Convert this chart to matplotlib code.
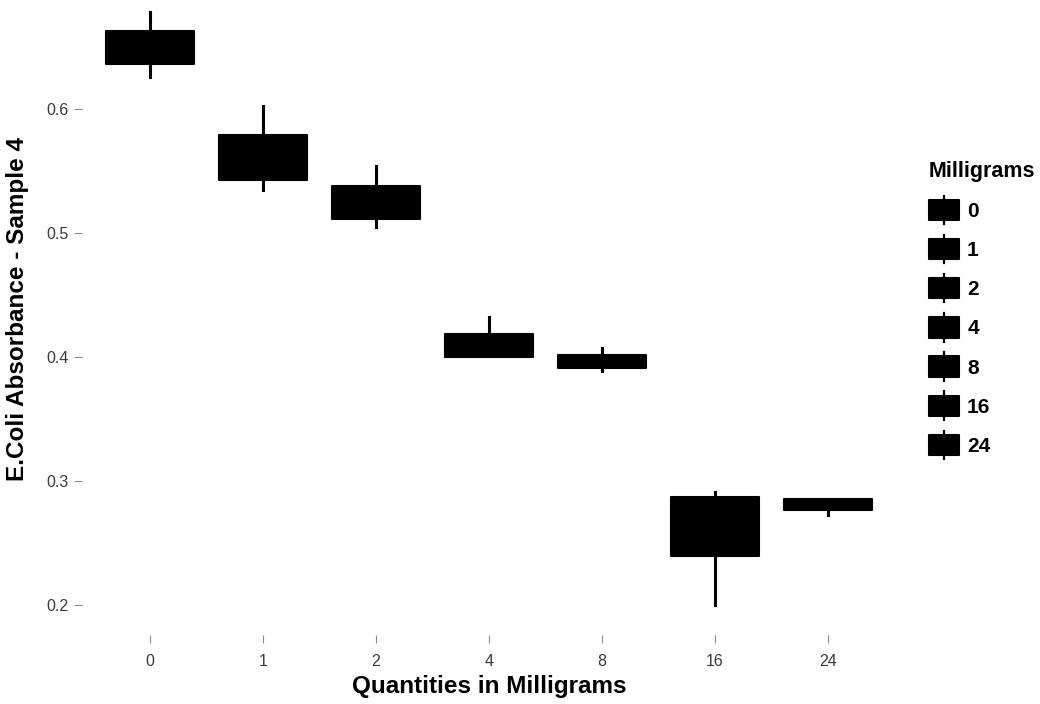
import matplotlib
matplotlib.use("Agg")
import matplotlib.pyplot as plt
from matplotlib.patches import Rectangle
from matplotlib.lines import Line2D
from matplotlib.legend_handler import HandlerBase

# Absorbance box summaries per quantity (mg)
milligrams = ["0", "1", "2", "4", "8", "16", "24"]
whisker_low = [0.626, 0.535, 0.505, 0.400, 0.389, 0.200, 0.273]
q1 = [0.636, 0.543, 0.511, 0.400, 0.391, 0.240, 0.277]
median = [0.650, 0.560, 0.525, 0.410, 0.397, 0.265, 0.283]
q3 = [0.663, 0.579, 0.538, 0.419, 0.402, 0.287, 0.286]
whisker_high = [0.678, 0.602, 0.554, 0.432, 0.407, 0.291, 0.286]

y_ticks = [0.2, 0.3, 0.4, 0.5, 0.6]
y_tick_labels = ["0.2", "0.3", "0.4", "0.5", "0.6"]

W, H = 1040, 704
fig = plt.figure(figsize=(W / 100, H / 100), dpi=100)
fig.patch.set_facecolor("white")

left_px, right_px, top_px, bottom_px = 82.2, 895.8, -17.5, 635
ax = fig.add_axes([left_px / W, (H - bottom_px) / H,
                   (right_px - left_px) / W, (bottom_px - top_px) / H])
ax.set_facecolor("white")

positions = list(range(1, len(milligrams) + 1))
stats = []
for i, lab in enumerate(milligrams):
    stats.append(dict(label=lab, whislo=whisker_low[i], q1=q1[i], med=median[i],
                      q3=q3[i], whishi=whisker_high[i], fliers=[]))

ax.bxp(stats, positions=positions, widths=0.77, patch_artist=True,
       showcaps=False, showfliers=False,
       boxprops=dict(facecolor="black", edgecolor="black", linewidth=1.5,
                     joinstyle="round"),
       whiskerprops=dict(color="black", linewidth=2.2),
       medianprops=dict(color="black", linewidth=1.5))

ax.set_xlim(0.4, len(milligrams) + 0.6)
span = max(whisker_high) - min(whisker_low)
ax.set_ylim(min(whisker_low) - 0.05 * span, max(whisker_high) + 0.05 * span)

for s in ax.spines.values():
    s.set_visible(False)

tick_font = ["Liberation Sans Narrow", "Liberation Sans", "DejaVu Sans"]
ax.set_xticks(positions)
ax.set_xticklabels(milligrams, fontsize=11.5, color="#3a3a3a", family=tick_font)
ax.set_yticks(y_ticks)
ax.set_yticklabels(y_tick_labels, fontsize=11.5, color="#3a3a3a", family=tick_font)
ax.tick_params(axis="x", length=5.5, width=0.8, color="#8a8a8a", pad=8.5)
ax.tick_params(axis="y", length=6, width=0.8, color="#8a8a8a", pad=4)

title_font = ["Liberation Sans", "DejaVu Sans"]
ax.set_xlabel("Quantities in Milligrams", fontsize=17.5, fontweight="bold",
              family=title_font, va="center")
ax.xaxis.set_label_coords(0.5, (bottom_px - 687) / (bottom_px - top_px))
ax.set_ylabel("E.Coli Absorbance - Sample 4", fontsize=17.5, fontweight="bold",
              family=title_font, va="center")
ax.yaxis.set_label_coords((18 - left_px) / (right_px - left_px), 0.5)


class BoxKeyHandler(HandlerBase):
    def create_artists(self, legend, orig_handle, xdescent, ydescent,
                       width, height, fontsize, trans):
        rect = Rectangle((-xdescent, -ydescent), width, height,
                         facecolor="black", edgecolor="black", linewidth=1.5,
                         joinstyle="round", transform=trans)
        xm = -xdescent + width / 2
        ext = 0.2 * height
        line = Line2D([xm, xm], [-ydescent - ext, -ydescent + height + ext],
                      color="black", linewidth=1.6, transform=trans)
        return [line, rect]


handles = [Rectangle((0, 0), 1, 1) for _ in milligrams]
leg = fig.legend(handles, milligrams, title="Milligrams",
                 handler_map={Rectangle: BoxKeyHandler()},
                 loc="upper left", bbox_to_anchor=(929 / W, 1 - 161 / H),
                 frameon=False, borderpad=0, borderaxespad=0,
                 handlelength=1.45, handleheight=1.12, handletextpad=0.38,
                 labelspacing=0.86,
                 prop=dict(family=title_font, weight="bold", size=15),
                 title_fontproperties=dict(family=title_font, weight="bold", size=15.5),
                 alignment="left")

fig.savefig("out.png", dpi=100, facecolor="white")
